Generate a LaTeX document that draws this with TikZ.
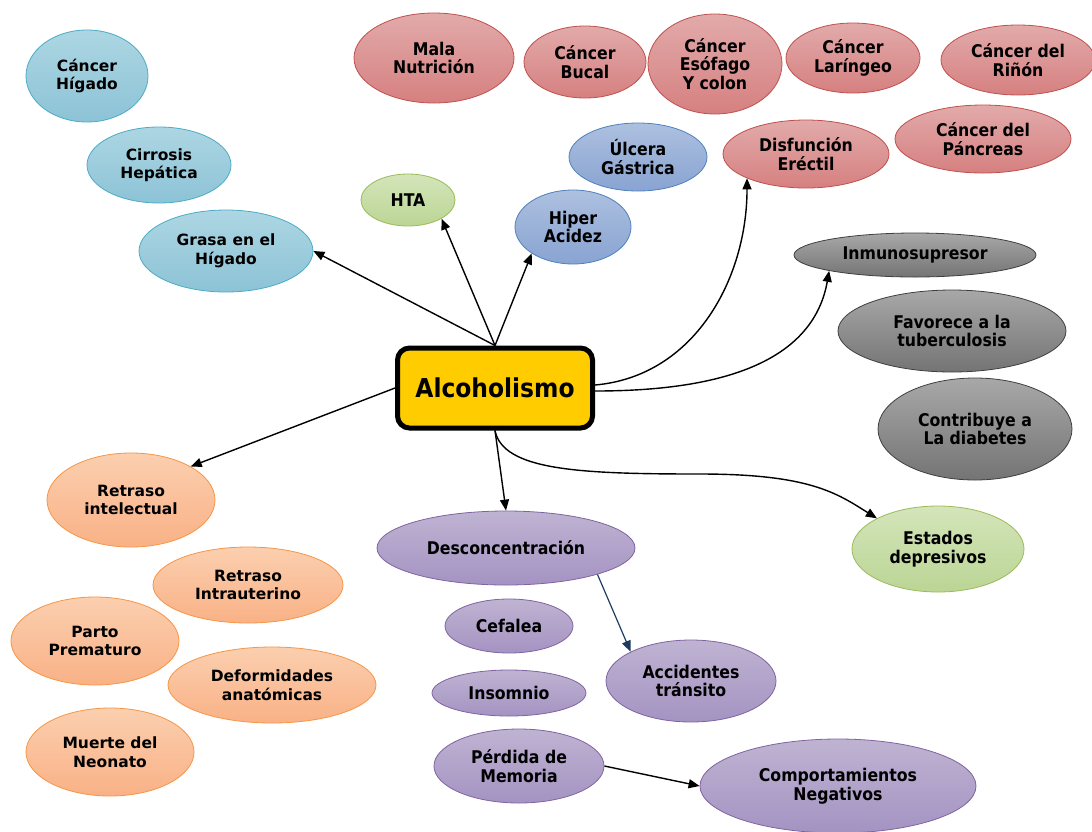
\documentclass[tikz,border=0pt]{standalone}
\usepackage{fontspec}
\setmainfont{DejaVu Sans}
\newfontfamily\condfont{DejaVu Sans Condensed}
\usetikzlibrary{shapes.geometric,arrows.meta}

\definecolor{liverTop}{HTML}{ADD6E3}\definecolor{liverBot}{HTML}{8CC3D6}\definecolor{liverLine}{HTML}{4BACC6}
\definecolor{redTop}{HTML}{E2AAAA}\definecolor{redBot}{HTML}{D68080}\definecolor{redLine}{HTML}{C0504D}
\definecolor{stoTop}{HTML}{ADC0DF}\definecolor{stoBot}{HTML}{88A4D2}\definecolor{stoLine}{HTML}{4F81BD}
\definecolor{grnTop}{HTML}{D4E5BA}\definecolor{grnBot}{HTML}{BBD595}\definecolor{grnLine}{HTML}{9BBB59}
\definecolor{gryTop}{HTML}{A8A8A8}\definecolor{gryBot}{HTML}{747474}\definecolor{gryLine}{HTML}{3F3F3F}
\definecolor{orgTop}{HTML}{FBCFAF}\definecolor{orgBot}{HTML}{F9B186}\definecolor{orgLine}{HTML}{F79646}
\definecolor{purTop}{HTML}{BFB3D2}\definecolor{purBot}{HTML}{A493C2}\definecolor{purLine}{HTML}{8064A2}
\definecolor{alcFill}{HTML}{FFCC00}
\definecolor{navy}{HTML}{1F3A60}

\tikzset{
  bub/.style 2 args={ellipse, draw, line width=0.8pt, inner sep=0pt, align=center,
    minimum width=2*#1, minimum height=2*#2},
  wide/.style={font=\bfseries\fontsize{15.5}{18.5}\selectfont},
  narrow/.style={font=\condfont\bfseries\fontsize{17.5}{18.5}\selectfont},
  liver/.style={wide, top color=liverTop, bottom color=liverBot, draw=liverLine},
  redb/.style={narrow, top color=redTop, bottom color=redBot, draw=redLine},
  stom/.style={narrow, top color=stoTop, bottom color=stoBot, draw=stoLine},
  grn/.style={narrow, top color=grnTop, bottom color=grnBot, draw=grnLine},
  gry/.style={narrow, top color=gryTop, bottom color=gryBot, draw=gryLine},
  org/.style={wide, top color=orgTop, bottom color=orgBot, draw=orgLine},
  pur/.style={narrow, top color=purTop, bottom color=purBot, draw=purLine},
  link/.style={line width=1.4pt, -{Triangle[length=11pt,width=9pt]}},
}

\begin{document}
\begin{tikzpicture}[x=1pt,y=-1pt]
\useasboundingbox (0,0) rectangle (1092,831);
\fill[white] (0,0) rectangle (1092,831);

% liver
\node[bub={61pt}{46pt}, liver] (chig) at (87,76) {Cáncer\\Hígado};
\node[bub={72pt}{38pt}, liver] (cirr) at (159,165) {Cirrosis\\Hepática};
\node[bub={87pt}{41pt}, liver] (gras) at (226,251) {Grasa en el\\Hígado};

% cancers and other red
\node[bub={80pt}{45pt}, redb] (mala) at (434,58) {Mala\\Nutrición};
\node[bub={61pt}{36pt}, redb] (bucal) at (585,62) {Cáncer\\Bucal};
\node[bub={67pt}{50pt}, redb] (esof) at (715,64) {Cáncer\\Esófago\\Y colon};
\node[bub={67pt}{35pt}, redb] (lar) at (853,58) {Cáncer\\Laríngeo};
\node[bub={77pt}{35pt}, redb] (rin) at (1018,60) {Cáncer del\\Riñón};
\node[bub={88pt}{34pt}, redb] (pan) at (983,139) {Cáncer del\\Páncreas};
\node[bub={83pt}{34pt}, redb] (dis) at (806,154) {Disfunción\\Eréctil};

% stomach
\node[bub={69pt}{34pt}, stom] (ulc) at (638,157) {Úlcera\\Gástrica};
\node[bub={58pt}{37pt}, stom] (hip) at (573,227) {Hiper\\Acidez};

% green
\node[bub={47pt}{26pt}, grn] (hta) at (408,200) {HTA};
\node[bub={86pt}{43pt}, grn] (est) at (938,549) {Estados\\depresivos};

% grey
\node[bub={121pt}{22pt}, gry] (inm) at (915,255) {Inmunosupresor};
\node[bub={114pt}{41pt}, gry] (tub) at (952,331) {Favorece a la\\tuberculosis};
\node[bub={97pt}{51pt}, gry] (dia) at (975,429) {Contribuye a\\La diabetes};

% orange
\node[bub={84pt}{47pt}, org] (rint) at (131,500) {Retraso\\intelectual};
\node[bub={95pt}{38pt}, org] (rintu) at (248,585) {Retraso\\Intrauterino};
\node[bub={84pt}{44pt}, org] (parto) at (95,641) {Parto\\Prematuro};
\node[bub={104pt}{38pt}, org] (defo) at (272,685) {Deformidades\\anatómicas};
\node[bub={84pt}{44pt}, org] (muer) at (110,752) {Muerte del\\Neonato};

% purple
\node[bub={129pt}{37pt}, pur] (desc) at (506,548) {Desconcentración};
\node[bub={64pt}{27pt}, pur] (cef) at (509,626) {Cefalea};
\node[bub={77pt}{23pt}, pur] (ins) at (509,693) {Insomnio};
\node[bub={85pt}{41pt}, pur] (acc) at (691,681) {Accidentes\\tránsito};
\node[bub={85pt}{37pt}, pur] (per) at (519,766) {Pérdida de\\Memoria};
\node[bub={138pt}{47pt}, pur] (comp) at (838,786) {Comportamientos\\Negativos};

% centre
\node[draw, line width=5pt, rounded corners=12pt, fill=alcFill, minimum width=195pt,
  minimum height=80pt, font=\condfont\bfseries\fontsize{26}{28}\selectfont] (alc) at (495,388) {Alcoholismo};

% connectors
\draw[link] (alc.north) -- (gras.east);
\draw[link] (alc.north) -- (hta.south east);
\draw[link] (alc.north) -- (hip.south west);
\draw[link] ([yshift=3pt]alc.east) to[out=5, in=-90] (dis.south west);
\draw[link] ([yshift=-3pt]alc.east) to[out=0, in=-100] (inm.south west);
\draw[link] (alc.west) -- (rint.north east);
\draw[link] (alc.south) -- (desc.north);
\coordinate (bend) at (700,474);
\draw[link] (alc.south) .. controls +(8,40) and +(-120,0) .. (bend)
  .. controls +(110,0) and +(-40,-25) .. (est.north west);
\draw[link, draw=navy, line width=1.2pt] (desc.south east) -- (acc.north west);
\draw[link] (per.east) -- (comp.west);
\end{tikzpicture}
\end{document}
